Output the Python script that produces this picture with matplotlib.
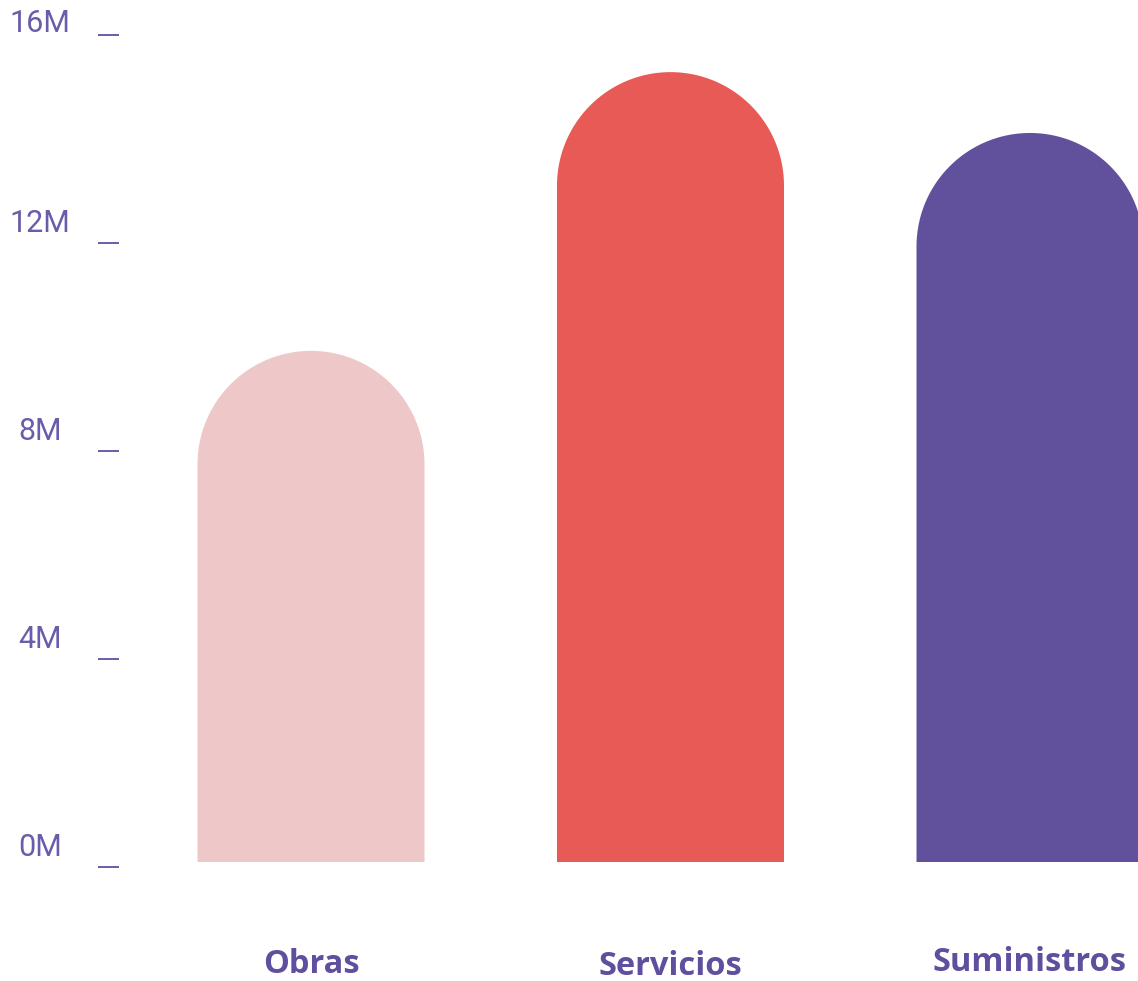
import matplotlib
matplotlib.use("Agg")
import matplotlib.pyplot as plt
import numpy as np
from matplotlib.patches import PathPatch
from matplotlib.path import Path
from matplotlib.transforms import blended_transform_factory

categories = ["Obras", "Servicios", "Suministros"]
amounts = [9.83, 15.19, 14.02]  # millions
bar_colors = ["#EEC7C8", "#E85A55", "#61509C"]
tick_values = [0, 4, 8, 12, 16]
tick_labels = ["0M", "4M", "8M", "12M", "16M"]

W, H, DPI = 1138, 981, 100
fig = plt.figure(figsize=(W / DPI, H / DPI), dpi=DPI)
ax = fig.add_axes([0, 0, 1, 1])
ax.axis("off")

# pixel layout: category spacing, pixels per million, baseline from bottom
step_px = 359.5
first_px = 311
px_per_m = 52.0
base_px = H - 862
ax.set_xlim(-first_px / step_px, (W - first_px) / step_px)
ax.set_ylim(-base_px / px_per_m, (H - base_px) / px_per_m)

bar_w = 227 / step_px
cap_r = (227 / 2) / px_per_m  # semicircle radius in y data units


def rounded_bar(x, top, color):
    # flat bottom, straight sides, semicircular cap ending at `top`
    body = top - cap_r
    t = np.linspace(np.pi, 0, 80)
    arc_x = x + bar_w / 2 * np.cos(t)
    arc_y = body + cap_r * np.sin(t)
    xs = np.concatenate([[x - bar_w / 2], arc_x, [x + bar_w / 2, x - bar_w / 2]])
    ys = np.concatenate([[0], arc_y, [0, 0]])
    verts = np.column_stack([xs, ys])
    codes = [Path.MOVETO] + [Path.LINETO] * (len(verts) - 2) + [Path.CLOSEPOLY]
    ax.add_patch(PathPatch(Path(verts, codes), facecolor=color, edgecolor="none"))


for i, (val, col) in enumerate(zip(amounts, bar_colors)):
    rounded_bar(i, val, col)

# y ticks drawn as small dashes with labels to the left
tick_col = "#6A5CAB"
trans = blended_transform_factory(fig.transFigure, ax.transData)
for v, lab in zip(tick_values, tick_labels):
    ax.plot([98 / W, 119 / W], [v - 4.8 / px_per_m] * 2, color=tick_col,
            lw=1.4, transform=trans, solid_capstyle="butt")
    ypx = min(v * px_per_m + base_px + 14.5, H - 24)
    fig.text(40 / W, ypx / H, lab, ha="center", va="center",
             fontsize=22, color=tick_col, family="Roboto", fontweight="normal")

# category names under the bars (baseline pixel rows)
label_base = [973, 975, 971]
lab_trans = blended_transform_factory(ax.transData, fig.transFigure)
for i, (name, yb) in enumerate(zip(categories, label_base)):
    ax.text(i, 1 - yb / H, name, transform=lab_trans, ha="center", va="baseline",
            fontsize=23.5, fontweight="bold", color="#5F4F9E", family="Open Sans")

fig.savefig("out.png", dpi=DPI)
